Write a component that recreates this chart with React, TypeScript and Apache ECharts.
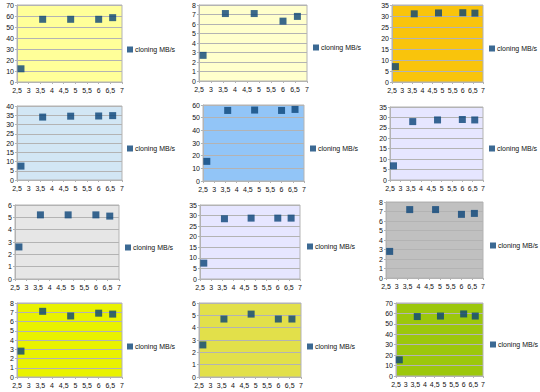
import React, { useEffect, useRef } from "react";
import * as echarts from "echarts";

const xValues = [2.67, 3.6, 4.8, 6.0, 6.6];
const xTicks = ["2,5", "3", "3,5", "4", "4,5", "5", "5,5", "6", "6,5", "7"];
const seriesName = "cloning MB/s";

const panel1 = [12, 57, 57, 57, 58.5];
const panel2 = [2.7, 7.1, 7.1, 6.3, 6.8];
const panel3 = [7, 31, 31.4, 31.5, 31.3];
const panel4 = [7.5, 34, 34.5, 34.6, 34.8];
const panel5 = [15.5, 55.7, 56, 55.7, 56.5];
const panel6 = [6.8, 28, 28.8, 29, 28.8];
const panel7 = [2.6, 5.2, 5.2, 5.2, 5.1];
const panel8 = [7.5, 28.5, 28.8, 28.8, 28.8];
const panel9 = [2.8, 7.2, 7.2, 6.7, 6.8];
const panel10 = [2.8, 7.1, 6.6, 6.9, 6.8];
const panel11 = [2.6, 4.7, 5.1, 4.7, 4.7];
const panel12 = [15.5, 57, 57.5, 59.5, 57.5];

const panelValues = [panel1, panel2, panel3, panel4, panel5, panel6, panel7, panel8, panel9, panel10, panel11, panel12];
const yMax = [70, 8, 35, 40, 60, 35, 6, 35, 8, 8, 6, 70];
const yStep = [10, 1, 5, 5, 10, 5, 1, 5, 1, 1, 1, 10];

// layout: [left, top, right, bottom] of plot area, legend [x, y]
const plotBoxes = [
  [17, 5, 122, 82],
  [199, 5, 307, 81],
  [392, 5, 483, 82],
  [17, 106, 122, 180],
  [203, 105, 304, 181],
  [390, 107, 483, 180],
  [15, 205, 119, 279],
  [200, 205, 300, 279],
  [386, 202, 483, 278],
  [17, 303, 122, 377],
  [199, 303, 301, 377],
  [396, 303, 483, 376],
];
const legendPos = [
  [127, 46], [313, 44], [489, 45],
  [127, 145], [310, 145], [489, 145],
  [125, 244], [307, 243], [490, 242],
  [127, 343], [307, 343], [490, 341],
];
const wallColors = [
  "#ffff99", "#ffffcc", "#f9c40c",
  "#d2e6f4", "#92c5f7", "#e6e6ff",
  "#e6e6e6", "#e6e6ff", "#c0c0c0",
  "#e9f200", "#e2e04a", "#9cc70c",
];

const FONT = "'Liberation Sans', Arial, sans-serif";

export default function App() {
  const ref = useRef<HTMLDivElement>(null);
  useEffect(() => {
    document.body.style.margin = "0";
    const chart = echarts.init(ref.current!, null, { renderer: "svg" });
    const grid: any[] = [];
    const xAxis: any[] = [];
    const yAxis: any[] = [];
    const series: any[] = [];
    const legend: any[] = [];
    panelValues.forEach((vals, i) => {
      const [l, t, r, b] = plotBoxes[i];
      grid.push({
        left: l, top: t, width: r - l, height: b - t,
        show: true, backgroundColor: wallColors[i],
        borderColor: "#b3b3b3", borderWidth: 1, containLabel: false,
      });
      xAxis.push({
        gridIndex: i, type: "value", min: 2.5, max: 7, interval: 0.5,
        axisLine: { show: true, onZero: false, lineStyle: { color: "#b3b3b3" } },
        axisTick: { show: true, length: 2, lineStyle: { color: "#b3b3b3" } },
        splitLine: { show: false },
        axisLabel: {
          fontSize: 7, color: "#111", fontFamily: FONT, margin: 5,
          formatter: (v: number) => xTicks[Math.round((v - 2.5) / 0.5)] ?? String(v),
        },
      });
      yAxis.push({
        gridIndex: i, type: "value", min: 0, max: yMax[i], interval: yStep[i],
        axisLine: { show: true, lineStyle: { color: "#b3b3b3" } },
        axisTick: { show: true, length: 2, lineStyle: { color: "#b3b3b3" } },
        splitLine: { show: true, lineStyle: { color: "#b3b3b3", width: 1 } },
        axisLabel: { fontSize: 7, color: "#111", fontFamily: FONT, margin: 3 },
      });
      series.push({
        type: "scatter", name: seriesName, xAxisIndex: i, yAxisIndex: i,
        symbol: "rect", symbolSize: 7,
        itemStyle: { color: "#0a4478" },
        data: vals.map((v, k) => [xValues[k], v]),
      });
      legend.push({
        left: legendPos[i][0], top: legendPos[i][1], orient: "vertical",
        data: [seriesName], icon: "rect", itemWidth: 6, itemHeight: 6, itemGap: 2,
        padding: 0,
        itemStyle: { borderWidth: 0 },
        textStyle: { fontSize: 7, color: "#111", fontFamily: FONT, padding: [0, 0, 0, -3] },
      });
    });
    chart.setOption({
      animation: false,
      backgroundColor: "#ffffff",
      textStyle: { fontFamily: FONT },
      grid, xAxis, yAxis, series, legend,
    });
    return () => chart.dispose();
  }, []);
  return <div ref={ref} style={{ position: "absolute", left: 0, top: 0, width: 540, height: 392 }} />;
}
